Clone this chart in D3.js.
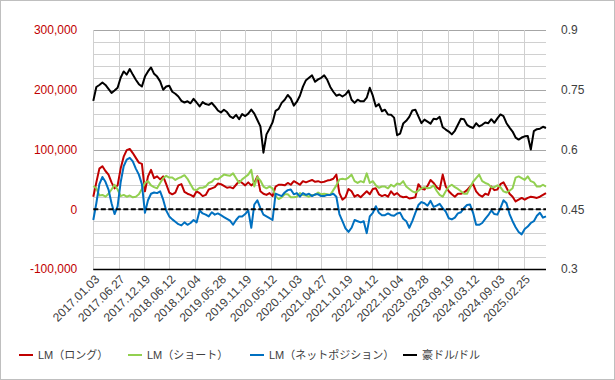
<!DOCTYPE html>
<html><head><meta charset="utf-8">
<script src="https://cdn.jsdelivr.net/npm/d3@7"></script>
<style>
body{margin:0;background:#fff;}
svg{display:block;}
</style></head>
<body><svg id="c" width="615" height="380"></svg>
<script>
// ---- DATA (weekly dates every 3 weeks starting 2017.01.03) ----
const startDate = "2017.01.03";
const stepWeeks = 3;
const xTickLabels = ["2017.01.03","2017.06.27","2017.12.19","2018.06.12","2018.12.04","2019.05.28","2019.11.19","2020.05.12","2020.11.03","2021.04.27","2021.10.19","2022.04.12","2022.10.04","2023.03.28","2023.09.19","2024.03.12","2024.09.03","2025.02.25"];
const leftTicks = [-100000, 0, 100000, 200000, 300000];
const rightTicks = [0.3, 0.45, 0.6, 0.75, 0.9];
const seriesNames = ["LM（ロング）","LM（ショート）","LM（ネットポジション）","豪ドル/ドル"];

// LM long (thousands of contracts)
const lmLong = [
21,45,68,72,64,58,45,35,40,68,
88,99,101,94,86,78,76,30,55,66,
52,55,50,55,42,28,25,28,40,42,
29,26,24,21,30,27,22,24,33,35,
37,43,42,39,36,37,35,41,47,44,
40,45,40,44,55,30,26,24,27,22,
38,41,41,40,44,41,47,44,41,47,
45,47,49,46,47,45,46,48,49,51,
58,27,16,20,34,30,21,24,20,25,
30,25,34,35,25,22,24,21,30,24,
27,22,20,21,18,19,20,42,35,33,
39,49,44,37,33,58,38,30,25,21,
26,26,28,32,38,42,30,24,21,26,
24,38,32,33,42,45,36,26,21,13,
16,19,16,19,21,20,19,21,24,27];
// LM short
const lmShort = [
39,35,23,24,21,26,33,41,33,22,
24,21,23,20,21,25,34,44,47,40,
37,35,44,52,56,53,53,49,52,54,
57,51,42,33,32,36,36,38,44,46,
51,50,54,58,57,56,60,52,44,50,
54,58,66,38,54,48,38,35,38,35,
22,17,20,25,25,20,20,21,27,24,
23,21,24,24,28,25,26,25,24,32,
40,50,51,50,53,58,47,44,47,45,
60,44,47,40,36,38,38,35,41,38,
43,42,47,38,34,30,28,31,35,37,
35,36,40,31,24,21,30,38,41,37,
34,30,26,26,36,46,52,58,47,44,
42,37,37,40,37,30,28,31,35,53,
55,52,49,55,47,45,38,38,41,38];
// LM net
const lmNet = [
-18,10,42,54,46,33,10,-8,5,45,
72,83,86,80,68,58,42,-6,15,26,
28,27,30,16,-2,-12,-17,-21,-25,-27,
-22,-26,-23,-18,-22,-2,-7,-9,-12,-5,
-9,-7,-10,-13,-16,-19,-26,-18,-12,-12,
-8,-2,-31,8,15,2,-9,-12,-15,-18,
26,24,22,28,32,33,25,27,21,27,
24,26,22,25,25,22,22,24,24,26,
21,-8,-20,-32,-38,-31,-18,-20,-22,-20,
-40,-12,-6,5,-6,-10,-10,-7,-10,-11,
-7,-6,-16,-20,-31,-20,-6,7,12,10,
6,14,4,6,9,2,-4,-15,-17,-14,
-7,-5,2,7,8,-6,-26,-26,-23,-16,
-10,-2,-8,-9,2,15,10,-8,-20,-30,
-38,-42,-33,-29,-23,-20,-11,-6,-14,-12];
// AUD/USD
const audUsd = [
0.722,0.757,0.762,0.768,0.762,0.752,0.742,0.748,0.755,0.780,
0.796,0.788,0.802,0.788,0.775,0.764,0.758,0.783,0.796,0.806,
0.790,0.783,0.771,0.750,0.758,0.760,0.745,0.740,0.733,0.722,
0.718,0.721,0.716,0.727,0.718,0.708,0.719,0.714,0.712,0.717,
0.708,0.698,0.693,0.700,0.694,0.683,0.679,0.687,0.676,0.689,
0.684,0.690,0.700,0.690,0.674,0.658,0.592,0.638,0.652,0.668,
0.697,0.702,0.717,0.725,0.737,0.728,0.710,0.720,0.735,0.758,
0.774,0.780,0.786,0.770,0.776,0.780,0.786,0.775,0.757,0.745,
0.735,0.738,0.733,0.738,0.748,0.725,0.717,0.725,0.721,0.721,
0.730,0.755,0.735,0.708,0.714,0.696,0.700,0.688,0.687,0.680,
0.636,0.640,0.665,0.672,0.682,0.698,0.700,0.683,0.666,0.675,
0.670,0.665,0.677,0.676,0.682,0.656,0.650,0.645,0.638,0.647,
0.662,0.677,0.676,0.662,0.657,0.654,0.666,0.658,0.662,0.668,
0.666,0.676,0.667,0.678,0.688,0.684,0.666,0.655,0.645,0.630,
0.625,0.630,0.633,0.634,0.600,0.646,0.651,0.652,0.657,0.654];

// ---- CHART ----
const parse = d3.utcParse("%Y.%m.%d");
const t0 = parse(startDate);
const dates = audUsd.map((_, i) => d3.utcDay.offset(t0, i * stepWeeks * 7));
const svg = d3.select("#c");
const L = 93.3, R = 546, T = 30, B = 269;

const x = d3.scaleUtc().domain([dates[0], dates[dates.length - 1]]).range([L, R]);
const yL = d3.scaleLinear().domain([-100000, 300000]).range([B, T]);
const yR = d3.scaleLinear().domain([0.3, 0.9]).range([B, T]);

svg.append("rect").attr("x",0.5).attr("y",0.5).attr("width",614).attr("height",379)
  .attr("fill","#fff").attr("stroke","#bfbfbf");

// horizontal gridlines (every 20,000)
const hg = d3.range(-100000, 300001, 20000);
svg.append("g").selectAll("line").data(hg).join("line")
  .attr("x1", L).attr("x2", R)
  .attr("y1", d => Math.round(yL(d)) + 0.5).attr("y2", d => Math.round(yL(d)) + 0.5)
  .attr("stroke", d => d % 100000 === 0 ? "#a6a6a6" : "#d0d0d0").attr("stroke-width", 1);

// vertical gridlines at tick dates
const tickDates = xTickLabels.map(parse);
svg.append("g").selectAll("line").data(tickDates).join("line")
  .attr("x1", d => Math.round(x(d)) + 0.5).attr("x2", d => Math.round(x(d)) + 0.5)
  .attr("y1", T).attr("y2", B)
  .attr("stroke", "#d0d0d0").attr("stroke-width", 1);

// bottom axis line
svg.append("line").attr("x1", L).attr("x2", R).attr("y1", Math.round(B) + 0.5).attr("y2", Math.round(B) + 0.5)
  .attr("stroke", "#000").attr("stroke-width", 1.3);

// left axis
const fmt = d3.formatLocale({decimal: ".", thousands: ",", grouping: [3], currency: ["", ""], minus: "-"}).format(",");
const gl = svg.append("g").attr("transform", `translate(${L},0)`)
  .call(d3.axisLeft(yL).tickValues(leftTicks).tickFormat(fmt).tickSize(0).tickPadding(16));
gl.select(".domain").remove();
gl.selectAll("text").attr("fill", "#c00000").attr("font-family", "Liberation Sans, Arial, sans-serif").attr("font-size", 12);

// right axis
const gr = svg.append("g").attr("transform", `translate(${R},0)`)
  .call(d3.axisRight(yR).tickValues(rightTicks).tickFormat(d3.format("~g")).tickSize(0).tickPadding(15));
gr.select(".domain").remove();
gr.selectAll("text").attr("fill", "#404040").attr("font-family", "Liberation Sans, Arial, sans-serif").attr("font-size", 12);

// x labels rotated
svg.append("g").selectAll("text").data(tickDates).join("text")
  .attr("transform", d => `translate(${x(d) + 4},${B + 8}) rotate(-45)`)
  .attr("text-anchor", "end").attr("dy", "0.35em")
  .attr("fill", "#404040").attr("font-family", "Liberation Sans, Arial, sans-serif").attr("font-size", 12)
  .text((d, i) => xTickLabels[i]);

// series lines
const colors = ["#c00000", "#92d050", "#0070c0", "#000000"];
const lineL = arr => d3.line().x((d, i) => x(dates[i])).y(d => yL(d * 1000))(arr);
const lineR = d3.line().x((d, i) => x(dates[i])).y(d => yR(d));
[lmLong, lmShort, lmNet].forEach((arr, k) => {
  svg.append("path").attr("d", lineL(arr)).attr("fill", "none")
    .attr("stroke", colors[k]).attr("stroke-width", 2).attr("stroke-linejoin", "round");
});
svg.append("path").attr("d", lineR(audUsd)).attr("fill", "none")
  .attr("stroke", colors[3]).attr("stroke-width", 2).attr("stroke-linejoin", "round");

// zero dashed line
svg.append("line").attr("x1", L).attr("x2", R).attr("y1", yL(0)).attr("y2", yL(0))
  .attr("stroke", "#000").attr("stroke-width", 2).attr("stroke-dasharray", "5,2.5");

// legend
const legX = [19, 128, 250, 403];
const lg = svg.append("g");
seriesNames.forEach((n, i) => {
  lg.append("line").attr("x1", legX[i]).attr("x2", legX[i] + 14).attr("y1", 355).attr("y2", 355)
    .attr("stroke", colors[i]).attr("stroke-width", 2);
  lg.append("text").attr("x", legX[i] + 19).attr("y", 355).attr("dy", "0.35em")
    .attr("fill", "#404040").attr("font-family", "Liberation Sans, Noto Sans CJK JP, sans-serif").attr("font-size", 11)
    .text(n);
});
</script></body></html>
